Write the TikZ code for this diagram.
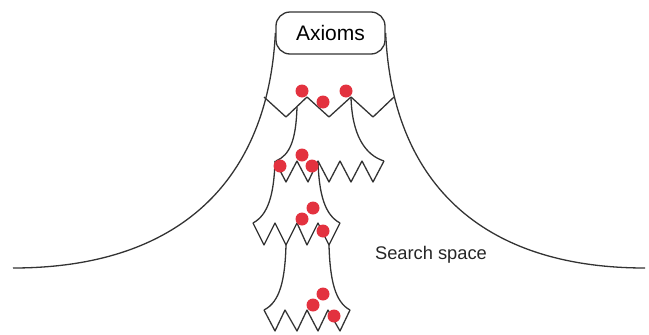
\documentclass[tikz,border=0pt]{standalone}
\usepackage{fontspec}
\setmainfont{Liberation Sans}
\definecolor{ink}{HTML}{333333}
\definecolor{dotred}{HTML}{E3323F}
\begin{document}
\begin{tikzpicture}[x=1pt,y=-1pt,
  line/.style={draw=ink,line width=1.3pt,line join=round},
  dot/.style={fill=dotred,draw=none},
  axbox/.style={draw=ink,line width=1.3pt,rounded corners=14pt,minimum width=109pt,minimum height=42pt,inner sep=0pt,font=\fontsize{21}{23}\selectfont},
  lbl/.style={font=\fontsize{18.3}{20}\selectfont,inner sep=0pt,text=black!85}]
\useasboundingbox (0,0) rectangle (649,335);
\node[axbox] (ax) at (330.5,33) {Axioms};
\node[lbl] (ss) at (431,255) {Search space};
% big curves
\coordinate (L0) at (13,268);
\coordinate (R0) at (645,268);
\draw[line] (L0) .. controls (180,268) and (268,180) .. (ax.west);
\draw[line] (R0) .. controls (479,268) and (392,180) .. (ax.east);
% level 1 zigzag
\draw[line] (264,97) -- (286,117) -- (307,97) -- (329,117) -- (351,97) -- (373,117) -- (394,97);
% branches 1 -> 2
\draw[line] (297,107) .. controls (296,140) and (290,155) .. (276,161);
\draw[line] (351,97) .. controls (352,135) and (365,155) .. (384,161);
% level 2 zigzag
\draw[line] (275,161) -- (286,182) -- (297,161) -- (308,182) -- (318,161) -- (329,182) -- (340,161) -- (351,182) -- (362,161) -- (373,182) -- (384,161);
% branches 2 -> 3
\draw[line] (275,161) .. controls (274,195) and (268,215) .. (253,223);
\draw[line] (318,161) .. controls (319,195) and (325,215) .. (340,223);
% level 3 zigzag
\draw[line] (253,223) -- (264,245) -- (275,223) -- (286,245) -- (297,223) -- (307,245) -- (318,223) -- (329,245) -- (340,223);
% branches 3 -> 4
\draw[line] (286,245) .. controls (285,280) and (280,302) .. (264,310);
\draw[line] (329,245) .. controls (330,280) and (335,302) .. (350,310);
% level 4 zigzag
\draw[line] (264,310) -- (275,331) -- (285,310) -- (297,331) -- (307,310) -- (318,331) -- (328,310) -- (340,331) -- (350,310);
% dots
\foreach \p in {(302,91),(323,102),(346,91),
                (302,155),(280,166),(312,166),
                (313,208),(302,219),(323,231),
                (323,294),(313,305),(334,316)}
  \fill[dot] \p circle (6.5pt);
\end{tikzpicture}
\end{document}
